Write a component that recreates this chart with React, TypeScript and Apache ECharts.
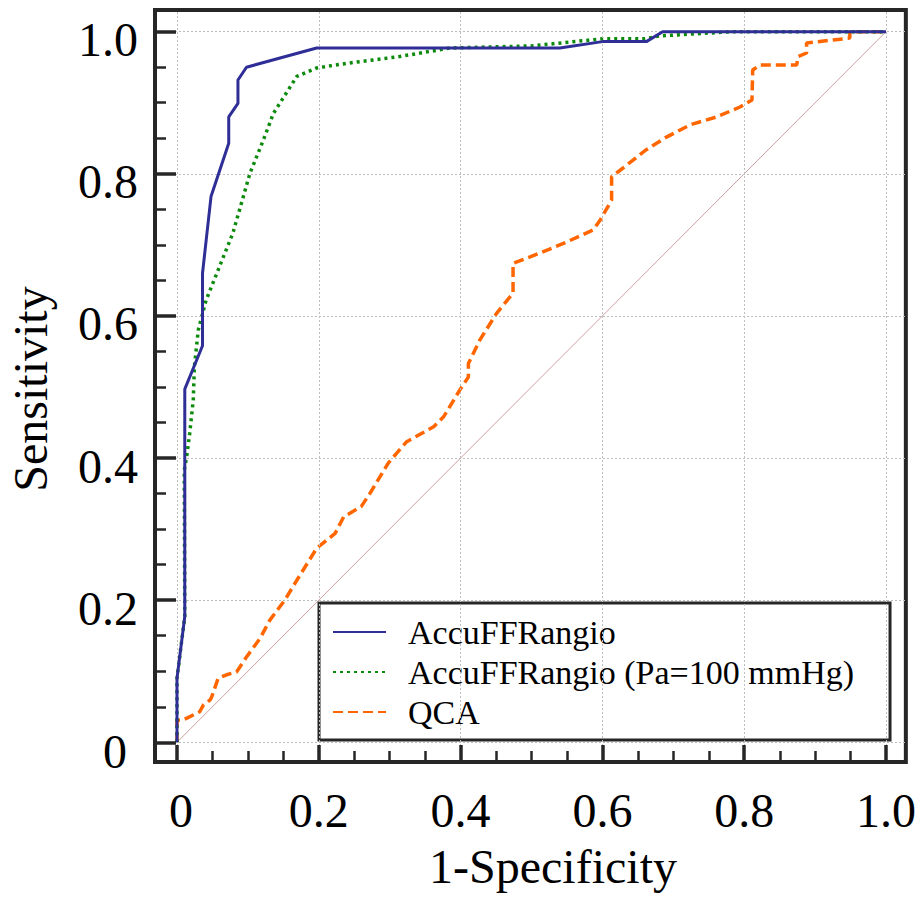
import React, { useEffect, useRef } from 'react';
import * as echarts from 'echarts';

// Tick labels / positions
const xTicks = [0, 0.2, 0.4, 0.6, 0.8, 1.0];
const yTicks = [0, 0.2, 0.4, 0.6, 0.8, 1.0];
const minorTicks = [0.05, 0.1, 0.15, 0.25, 0.3, 0.35, 0.45, 0.5, 0.55, 0.65, 0.7, 0.75, 0.85, 0.9, 0.95];

// Series names
const names = ['AccuFFRangio', 'AccuFFRangio (Pa=100 mmHg)', 'QCA'];

// AccuFFRangio ROC (1-specificity, sensitivity)
const accuX = [0, 0, 0.011, 0.011, 0.036, 0.036, 0.048, 0.073, 0.073, 0.086, 0.086, 0.098, 0.197, 0.54, 0.60, 0.662, 0.685, 1.0];
const accuY = [0, 0.09, 0.177, 0.497, 0.558, 0.66, 0.768, 0.843, 0.880, 0.899, 0.932, 0.950, 0.977, 0.977, 0.986, 0.986, 1.0, 1.0];

// AccuFFRangio (Pa=100 mmHg) ROC
const paX = [0, 0, 0.011, 0.0103, 0.0137, 0.018, 0.023, 0.0245, 0.030, 0.041, 0.079, 0.103, 0.122, 0.136, 0.169, 0.197, 0.244, 0.314, 0.385, 0.5, 0.6, 0.66, 0.68, 0.784, 1.0];
const paY = [0, 0.09, 0.177, 0.383, 0.402, 0.435, 0.482, 0.528, 0.580, 0.622, 0.717, 0.801, 0.848, 0.885, 0.937, 0.949, 0.956, 0.965, 0.977, 0.980, 0.990, 0.990, 0.994, 1.0, 1.0];

// QCA ROC
const qcaX = [0, 0, 0.007, 0.014, 0.032, 0.037, 0.047, 0.049, 0.058, 0.07, 0.084, 0.098, 0.117, 0.131, 0.152, 0.169, 0.197, 0.223, 0.235, 0.26, 0.272, 0.298, 0.31, 0.324, 0.362, 0.376, 0.399, 0.411, 0.411, 0.427, 0.451, 0.474, 0.474, 0.498, 0.545, 0.587, 0.597, 0.613, 0.613, 0.625, 0.662, 0.691, 0.724, 0.761, 0.794, 0.811, 0.812, 0.822, 0.874, 0.876, 0.888, 0.888, 0.949, 0.949, 1.0];
const qcaY = [0, 0.031, 0.031, 0.034, 0.043, 0.052, 0.06, 0.064, 0.09, 0.095, 0.099, 0.12, 0.146, 0.172, 0.2, 0.228, 0.273, 0.294, 0.317, 0.332, 0.35, 0.393, 0.407, 0.423, 0.444, 0.458, 0.496, 0.514, 0.533, 0.566, 0.604, 0.632, 0.674, 0.683, 0.702, 0.721, 0.735, 0.763, 0.796, 0.805, 0.834, 0.852, 0.869, 0.88, 0.894, 0.904, 0.946, 0.953, 0.953, 0.965, 0.97, 0.984, 0.991, 1.0, 1.0];

// Reference (chance) line
const diagX = [0, 1];
const diagY = [0, 1];

const zip = (xs: number[], ys: number[]) => xs.map((x, i) => [x, ys[i]]);

const FONT = "'Liberation Serif', serif";
const X_MIN = -0.031, X_MAX = 1.028, Y_MIN = -0.0277, Y_MAX = 1.0305;

export default function App() {
  const ref = useRef<HTMLDivElement>(null);
  useEffect(() => {
    if (!ref.current) return;
    const chart = echarts.init(ref.current, undefined, { renderer: 'svg' });
    const fmt = (v: number) => (v === 0 ? '{z|0}' : '{n|' + v.toFixed(1) + '}');
    const tickColor = '#262626';
    const hidden = { axisLine: { show: false, onZero: false }, splitLine: { show: false } };
    const option: any = {
      animation: false,
      backgroundColor: '#fff',
      textStyle: { fontFamily: FONT, color: '#000' },
      grid: [
        { left: 155, top: 10, width: 751, height: 752, show: true, borderColor: tickColor, borderWidth: 4, backgroundColor: 'transparent' },
        { left: 155, top: 10, width: 751, height: 752, show: false },
      ],
      xAxis: [
        {
          gridIndex: 0, type: 'value', min: X_MIN, max: X_MAX, position: 'bottom', z: 10, ...hidden,
          axisTick: { show: true, inside: true, length: 17, customValues: xTicks, lineStyle: { color: tickColor, width: 3.5 } },
          axisLabel: {
            show: true, customValues: xTicks, margin: 24, formatter: fmt,
            fontSize: 48, fontFamily: FONT, color: '#000',
            rich: {
              n: { fontSize: 48, fontFamily: FONT, color: '#000' },
              z: { fontSize: 48, fontFamily: FONT, color: '#000', padding: [0, 0, 0, 8] },
            },
          },
        },
        {
          gridIndex: 1, type: 'value', min: X_MIN, max: X_MAX, position: 'bottom', z: 10, ...hidden,
          axisTick: { show: true, inside: true, length: 11, customValues: minorTicks, lineStyle: { color: tickColor, width: 2.5 } },
          axisLabel: { show: false },
        },
      ],
      yAxis: [
        {
          gridIndex: 0, type: 'value', min: Y_MIN, max: Y_MAX, position: 'left', z: 10, ...hidden,
          axisTick: { show: true, inside: true, length: 21, customValues: yTicks, lineStyle: { color: tickColor, width: 3.5 } },
          axisLabel: {
            show: true, customValues: yTicks, margin: 17, formatter: fmt,
            fontSize: 48, fontFamily: FONT, color: '#000',
            rich: {
              n: { fontSize: 48, fontFamily: FONT, color: '#000', padding: [16, 0, 0, 0] },
              z: { fontSize: 48, fontFamily: FONT, color: '#000', padding: [18, 11, 0, 0] },
            },
          },
        },
        {
          gridIndex: 1, type: 'value', min: Y_MIN, max: Y_MAX, position: 'left', z: 10, ...hidden,
          axisTick: { show: true, inside: true, length: 11, customValues: minorTicks, lineStyle: { color: tickColor, width: 2.5 } },
          axisLabel: { show: false },
        },
      ],
      legend: {
        data: names,
        orient: 'vertical',
        left: 319,
        top: 603,
        padding: [12, 36, 11, 13],
        itemWidth: 53,
        itemHeight: 34,
        itemGap: 6,
        borderColor: tickColor,
        borderWidth: 3,
        backgroundColor: '#fff',
        selectedMode: false,
        itemStyle: { opacity: 0 },
        formatter: '{t|{name}}',
        textStyle: {
          fontSize: 34, fontFamily: FONT, color: '#000',
          rich: { t: { fontSize: 34, fontFamily: FONT, color: '#000', padding: [0, 0, 0, 17] } },
        },
      },
      graphic: [
        { type: 'text', x: 553, y: 866, style: { text: '1-Specificity', font: `48px ${FONT}`, fill: '#000', align: 'center', verticalAlign: 'middle' } },
        { type: 'text', x: 30, y: 389, rotation: Math.PI / 2, style: { text: 'Sensitivity', font: `48px ${FONT}`, fill: '#000', align: 'center', verticalAlign: 'middle' } },
      ],
      series: [
        {
          name: 'diag', type: 'line', xAxisIndex: 0, yAxisIndex: 0, data: zip(diagX, diagY), symbol: 'none', silent: true, z: 1,
          lineStyle: { color: '#cfa0a0', width: 1 },
          markLine: {
            silent: true, symbol: ['none', 'none'], label: { show: false },
            lineStyle: { color: '#bdbdbd', width: 1, type: [2, 2] },
            data: [...xTicks.map((v) => ({ xAxis: v })), ...yTicks.map((v) => ({ yAxis: v }))],
          },
        },
        {
          name: names[2], type: 'line', xAxisIndex: 0, yAxisIndex: 0, data: zip(qcaX, qcaY), symbol: 'none', z: 3,
          color: '#ff6600', lineStyle: { color: '#ff6600', width: 3.5, type: [10, 5] },
        },
        {
          name: names[1], type: 'line', xAxisIndex: 0, yAxisIndex: 0, data: zip(paX, paY), symbol: 'none', z: 4,
          color: '#0b8a0b', lineStyle: { color: '#0b8a0b', width: 3.5, type: [3, 4] },
        },
        {
          name: names[0], type: 'line', xAxisIndex: 0, yAxisIndex: 0, data: zip(accuX, accuY), symbol: 'none', z: 5,
          color: '#2e2e96', lineStyle: { color: '#2e2e96', width: 3 },
        },
      ],
    };
    chart.setOption(option);
    return () => chart.dispose();
  }, []);
  return <div ref={ref} style={{ position: 'fixed', left: 0, top: 0, width: 919, height: 899 }} />;
}
